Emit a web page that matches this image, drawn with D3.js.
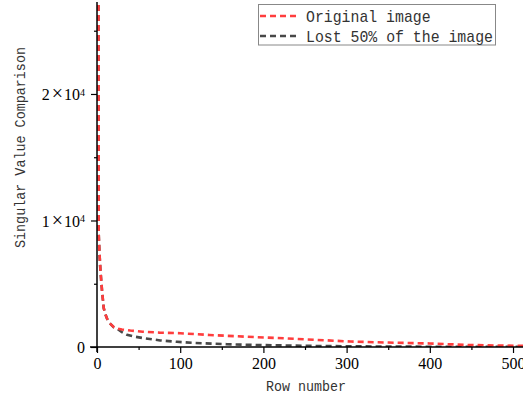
<!DOCTYPE html>
<html><head><meta charset="utf-8">
<script src="https://cdn.jsdelivr.net/npm/d3@7"></script>
<style>body{margin:0;background:#fff}svg{display:block}</style>
</head><body>
<svg id="c" width="523" height="401"></svg>
<script>
// Data
const rowOriginal = [1,2,3,4,5,6,8,10,12,15,20,25,30,40,55,75,100,135,190,225,265,305,350,400,445,480,512];
const valOriginal = [80000,9000,7400,6200,5300,4500,3100,2600,2250,1900,1580,1450,1390,1300,1210,1140,1090,950,780,690,560,430,350,280,160,120,90];
const rowLost = [1,2,3,4,5,6,8,10,12,15,20,25,30,36,45,56,76,96,116,156,192,250,300,400,512];
const valLost = [80000,9000,7400,6200,5300,4500,3100,2600,2250,1900,1560,1400,1180,970,820,700,520,410,320,220,160,95,55,20,5];
const xTicks = [0,100,200,300,400,500];
const yTicks = [0,10000,20000];
const yTickLabels = ["0","1","2"];
const seriesNames = ["Original image","Lost 50% of the image"];
const seriesColors = ["#ff3d3d","#484848"];

const SERIF = "Liberation Serif";
const MONO = "Liberation Mono";

const svg = d3.select("#c");
const x = d3.scaleLinear().domain([0,512]).range([97,523]);
const y = d3.scaleLinear().domain([0,27270]).range([347,2]);

svg.append("defs").append("clipPath").attr("id","clip")
  .append("rect").attr("x",97).attr("y",2).attr("width",426).attr("height",345);

const line = d3.line().x(d=>x(d[0])).y(d=>y(d[1]));
const series = [
  d3.zip(rowLost, valLost),
  d3.zip(rowOriginal, valOriginal)
];
const g = svg.append("g").attr("clip-path","url(#clip)");
g.append("path").datum(series[0]).attr("d",line).attr("fill","none")
  .attr("stroke",seriesColors[1]).attr("stroke-width",2.6).attr("stroke-dasharray","6,4");
g.append("path").datum(series[1]).attr("d",line).attr("fill","none")
  .attr("stroke",seriesColors[0]).attr("stroke-width",2.6).attr("stroke-dasharray","6,4");

// X axis
const xa = svg.append("g").attr("transform","translate(0,347)");
xa.call(d3.axisBottom(x).tickValues(d3.range(50,520,100)).tickSize(3).tickFormat(""));
xa.call(g2=>g2.select(".domain").remove());
xa.selectAll("line").attr("stroke-width",1.2);
const xa2 = svg.append("g").attr("transform","translate(0,347)");
xa2.call(d3.axisBottom(x).tickValues(xTicks).tickSize(6).tickSizeOuter(0).tickPadding(5).tickFormat(d3.format("d")));
xa2.attr("font-family",SERIF).attr("font-size",16);
xa2.selectAll("text").attr("font-family",SERIF).attr("font-size",16).attr("fill","#000");
xa2.select(".domain").attr("d","M90,0H523").attr("stroke-width",1.5);
xa2.selectAll(".tick line").attr("stroke-width",1.2);

// Y axis
const ya = svg.append("g").attr("transform","translate(97,0)");
ya.call(d3.axisLeft(y).tickValues([5000,15000,25000]).tickSize(3).tickFormat(""));
ya.call(g2=>g2.select(".domain").remove());
ya.selectAll("line").attr("stroke-width",1.2);
const ya2 = svg.append("g").attr("transform","translate(97,0)");
ya2.call(d3.axisLeft(y).tickValues(yTicks).tickSize(6).tickSizeOuter(0).tickPadding(6).tickFormat(""));
ya2.attr("font-family",SERIF).attr("font-size",16);
ya2.select(".domain").attr("d","M0,2V352").attr("stroke-width",1.5);
ya2.selectAll(".tick line").attr("stroke-width",1.2);
ya2.selectAll(".tick").each(function(d,i){
  const t = d3.select(this).append("text").attr("x",-12).attr("dy","0.35em")
    .attr("text-anchor","end").attr("fill","#000")
    .attr("font-family",SERIF).attr("font-size",16);
  if(d===0){ t.text("0"); }
  else {
    t.append("tspan").text(yTickLabels[i]);
    t.append("tspan").attr("font-size",20).attr("dx",2).text("\u00d7");
    t.append("tspan").attr("dx",1).text("10");
    t.append("tspan").attr("dy","-0.45em").attr("font-size",10).text("4");
  }
});

// Axis titles
svg.append("text").attr("x",306).attr("y",391).attr("text-anchor","middle")
  .attr("font-family",MONO).attr("font-size",15)
  .attr("textLength",80).attr("lengthAdjust","spacingAndGlyphs")
  .attr("fill","#333").text("Row number");
svg.append("text").attr("transform","translate(25,147.5) rotate(-90)").attr("text-anchor","middle")
  .attr("font-family",MONO).attr("font-size",15)
  .attr("textLength",201).attr("lengthAdjust","spacingAndGlyphs")
  .attr("fill","#333").text("Singular Value Comparison");

// Legend
const lg = svg.append("g");
lg.append("rect").attr("x",258.5).attr("y",4.5).attr("width",237).attr("height",40.5)
  .attr("fill","#fff").attr("stroke","#888").attr("stroke-width",1);
const lens = [124.6,187];
seriesNames.forEach((n,i)=>{
  const yy = 16 + i*20;
  lg.append("line").attr("x1",260).attr("x2",299).attr("y1",yy).attr("y2",yy)
    .attr("stroke",seriesColors[i]).attr("stroke-width",2.6).attr("stroke-dasharray","6,4");
  lg.append("text").attr("x",306).attr("y",yy).attr("dy","0.35em")
    .attr("font-family",MONO).attr("font-size",17)
    .attr("textLength",lens[i]).attr("lengthAdjust","spacingAndGlyphs")
    .attr("fill","#333").text(n);
});
</script>
</body></html>
